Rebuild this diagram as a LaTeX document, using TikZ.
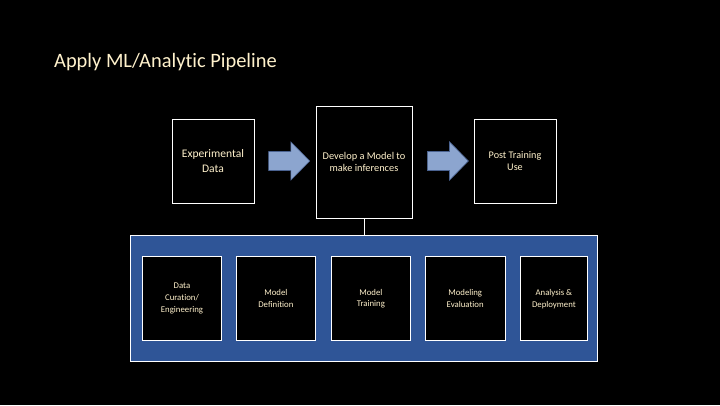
\documentclass[tikz,border=0pt]{standalone}
\usepackage{fontspec}
\setmainfont{Carlito}[Ligatures={NoCommon}]
\usetikzlibrary{shapes.arrows}
\definecolor{cream}{HTML}{FFF2CC}
\definecolor{pipeblue}{HTML}{2F5597}
\definecolor{arrowblue}{HTML}{8CA5CF}
\definecolor{arrowedge}{HTML}{4A6290}
\tikzset{
  bigbox/.style={draw=white, line width=0.9bp, fill=black, text=cream, align=center, inner sep=0pt},
  smallbox/.style={draw=white, line width=0.9bp, fill=black, text=cream, align=center, inner sep=0pt,
    minimum height=84bp, font=\fontsize{8.8}{12}\selectfont},
  blockarrow/.style={single arrow, draw=arrowedge, line width=0.6bp, fill=arrowblue,
    inner xsep=0pt, inner ysep=9.2bp,
    minimum height=41bp, single arrow head extend=9.7bp, single arrow tip angle=91},
  link/.style={draw=white, line width=0.9bp}
}
\begin{document}
\begin{tikzpicture}[x=1bp,y=-1bp]
\fill[black] (0,0) rectangle (720,405);
\useasboundingbox (0,0) rectangle (720,405);
\node[anchor=base west, text=cream, font=\fontsize{20.5}{24}\selectfont, inner sep=0pt] (title) at (54,67) {Apply ML/Analytic Pipeline};
\node[bigbox, minimum width=82bp, minimum height=84bp, font=\fontsize{11.6}{16}\selectfont] (exp) at (213,161) {Experimental\\Data};
\node[bigbox, minimum width=96bp, minimum height=112bp, font=\fontsize{10.4}{12.5}\selectfont] (mid) at (364,162) {Develop a Model to\\make inferences};
\node[bigbox, minimum width=82bp, minimum height=84bp, font=\fontsize{10.2}{12}\selectfont] (post) at (515,161) {Post Training\\Use};
\node[blockarrow] (a1) at (284.5,161) {};
\node[blockarrow] (a2) at (443.2,161) {};
\node[draw=white, line width=0.9bp, fill=pipeblue, minimum width=466.7bp, minimum height=126.7bp, inner sep=0pt] (pipe) at (364,298.3) {};
\draw[link] (mid.south) -- (mid.south |- pipe.north);
\node[smallbox, minimum width=79.4bp] (s1) at (182,298.7) {Data\\Curation/\\Engineering};
\node[smallbox, minimum width=79.7bp] (s2) at (275.9,298.7) {Model\\Definition};
\node[smallbox, minimum width=79.7bp] (s3) at (370.9,298.7) {Model\\Training};
\node[smallbox, minimum width=79.7bp] (s4) at (465.2,298.7) {Modeling\\Evaluation};
\node[smallbox, minimum width=67.7bp] (s5) at (553.9,298.7) {Analysis \&\\Deployment};
\end{tikzpicture}
\end{document}
